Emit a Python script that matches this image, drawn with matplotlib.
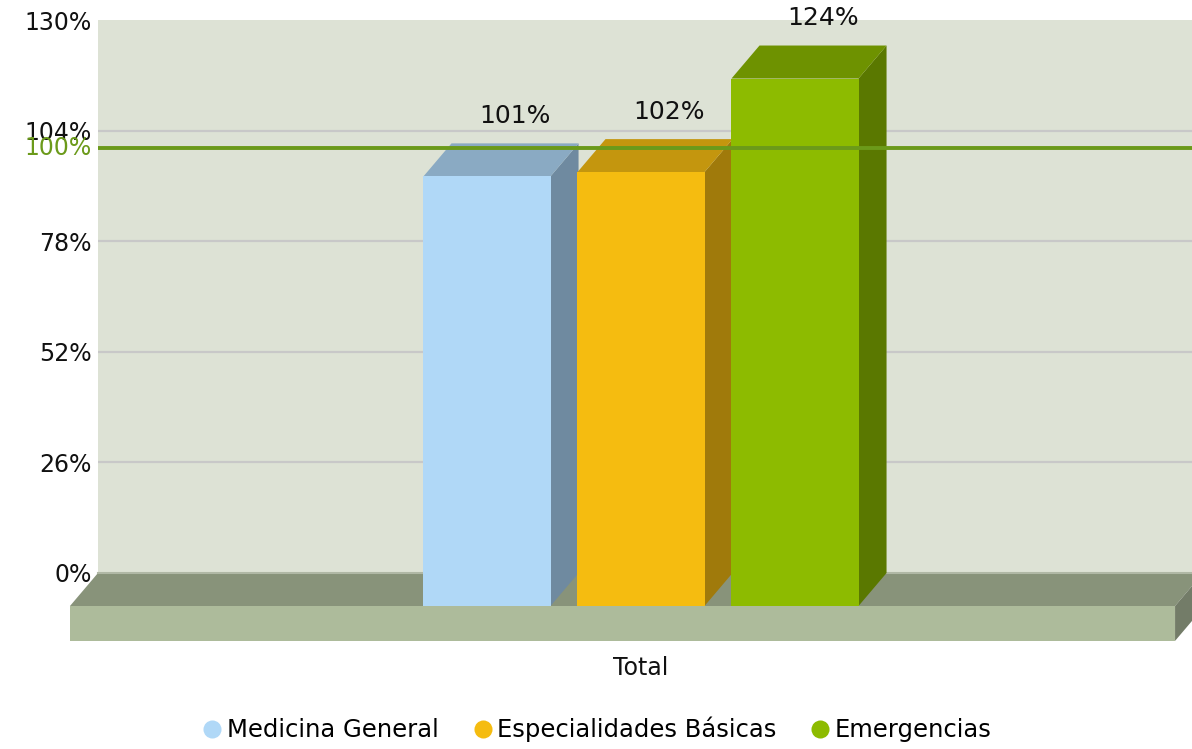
import matplotlib.pyplot as plt
from matplotlib.patches import Polygon
from matplotlib.lines import Line2D

# data
categories = ['Medicina General', 'Especialidades Básicas', 'Emergencias']
values = [101, 102, 124]
group_label = 'Total'
yticks = [0, 26, 52, 78, 104, 130]
target = 100

# colours: front, top, side
front_cols = ['#B0D8F7', '#F5BC10', '#8DBB00']
top_cols = ['#8AAAC3', '#C4960E', '#6E9200']
side_cols = ['#6F8AA0', '#A07A0B', '#5A7800']

# 3d look (in data units)
dx = 0.182
dy = 7.76
bar_w = 0.825
floor_h = 8.2

fig = plt.figure(figsize=(11.92, 7.49), dpi=100)
ax = fig.add_axes([98 / 1192, (749 - 573) / 749, (1192 - 98) / 1192, 553 / 749])
ax.set_xlim(-3.708, 3.396)
ax.set_ylim(0, 130)
ax.set_facecolor('#DDE2D5')
for s in ax.spines.values():
    s.set_visible(False)

# gridlines
for t in yticks[1:-1]:
    ax.axhline(t, color='#C8C8C8', lw=1.6, zorder=1)

# floor
x0, x1 = -3.708, 3.468
ax.add_patch(Polygon([(x0, 0), (x1, 0), (x1 - dx, -dy), (x0 - dx, -dy)],
                     closed=True, fc='#88937A', ec='none', clip_on=False, zorder=2))
ax.plot([x0, x1], [0, 0], color='#B0B8A5', lw=1.5, clip_on=False, zorder=2)
ax.add_patch(Polygon([(x0 - dx, -dy), (x1 - dx, -dy), (x1 - dx, -dy - floor_h), (x0 - dx, -dy - floor_h)],
                     closed=True, fc='#ADBB9B', ec='none', clip_on=False, zorder=2))
ax.add_patch(Polygon([(x1 - dx, -dy), (x1, 0), (x1, -floor_h), (x1 - dx, -dy - floor_h)],
                     closed=True, fc='#737C68', ec='none', clip_on=False, zorder=2))

# bars
for i, v in enumerate(values):
    xc = i - 1
    l = xc - bar_w / 2
    r = xc + bar_w / 2
    # side
    ax.add_patch(Polygon([(r - dx, -dy), (r, 0), (r, v), (r - dx, v - dy)],
                         closed=True, fc=side_cols[i], ec='none', clip_on=False, zorder=3))
    # top
    ax.add_patch(Polygon([(l - dx, v - dy), (r - dx, v - dy), (r, v), (l, v)],
                         closed=True, fc=top_cols[i], ec='none', clip_on=False, zorder=3))
    # front
    ax.add_patch(Polygon([(l - dx, -dy), (r - dx, -dy), (r - dx, v - dy), (l - dx, v - dy)],
                         closed=True, fc=front_cols[i], ec='none', clip_on=False, zorder=4))
    ax.text(xc, v + 3.6, f'{v}%', ha='center', va='bottom', fontsize=18, color='#111111', zorder=6)

# target line
ax.axhline(target, color='#6B9A1A', lw=2.8, zorder=5)
ax.annotate(f'{target}%', xy=(0, target), xycoords=ax.get_yaxis_transform(),
            xytext=(-4.5, 0), textcoords='offset points', ha='right', va='center',
            fontsize=17, color='#6B9A1A')

ax.set_yticks(yticks)
ax.set_yticklabels([f'{t}%' for t in yticks], fontsize=17, color='#111111')
ax.tick_params(axis='y', length=0, pad=4.5)
ax.set_xticks([-dx])
ax.set_xticklabels([group_label], fontsize=17, color='#111111')
ax.tick_params(axis='x', length=0, pad=60)

handles = [Line2D([], [], marker='o', ls='none', markersize=13, markerfacecolor=c, markeredgecolor='none')
           for c in front_cols]
fig.legend(handles, categories, loc='lower center', bbox_to_anchor=(0.5, -0.02), ncol=3,
           frameon=False, fontsize=17.5, handlelength=1.0, handletextpad=0.1, columnspacing=1.3)

fig.savefig('out.png', dpi=100)
